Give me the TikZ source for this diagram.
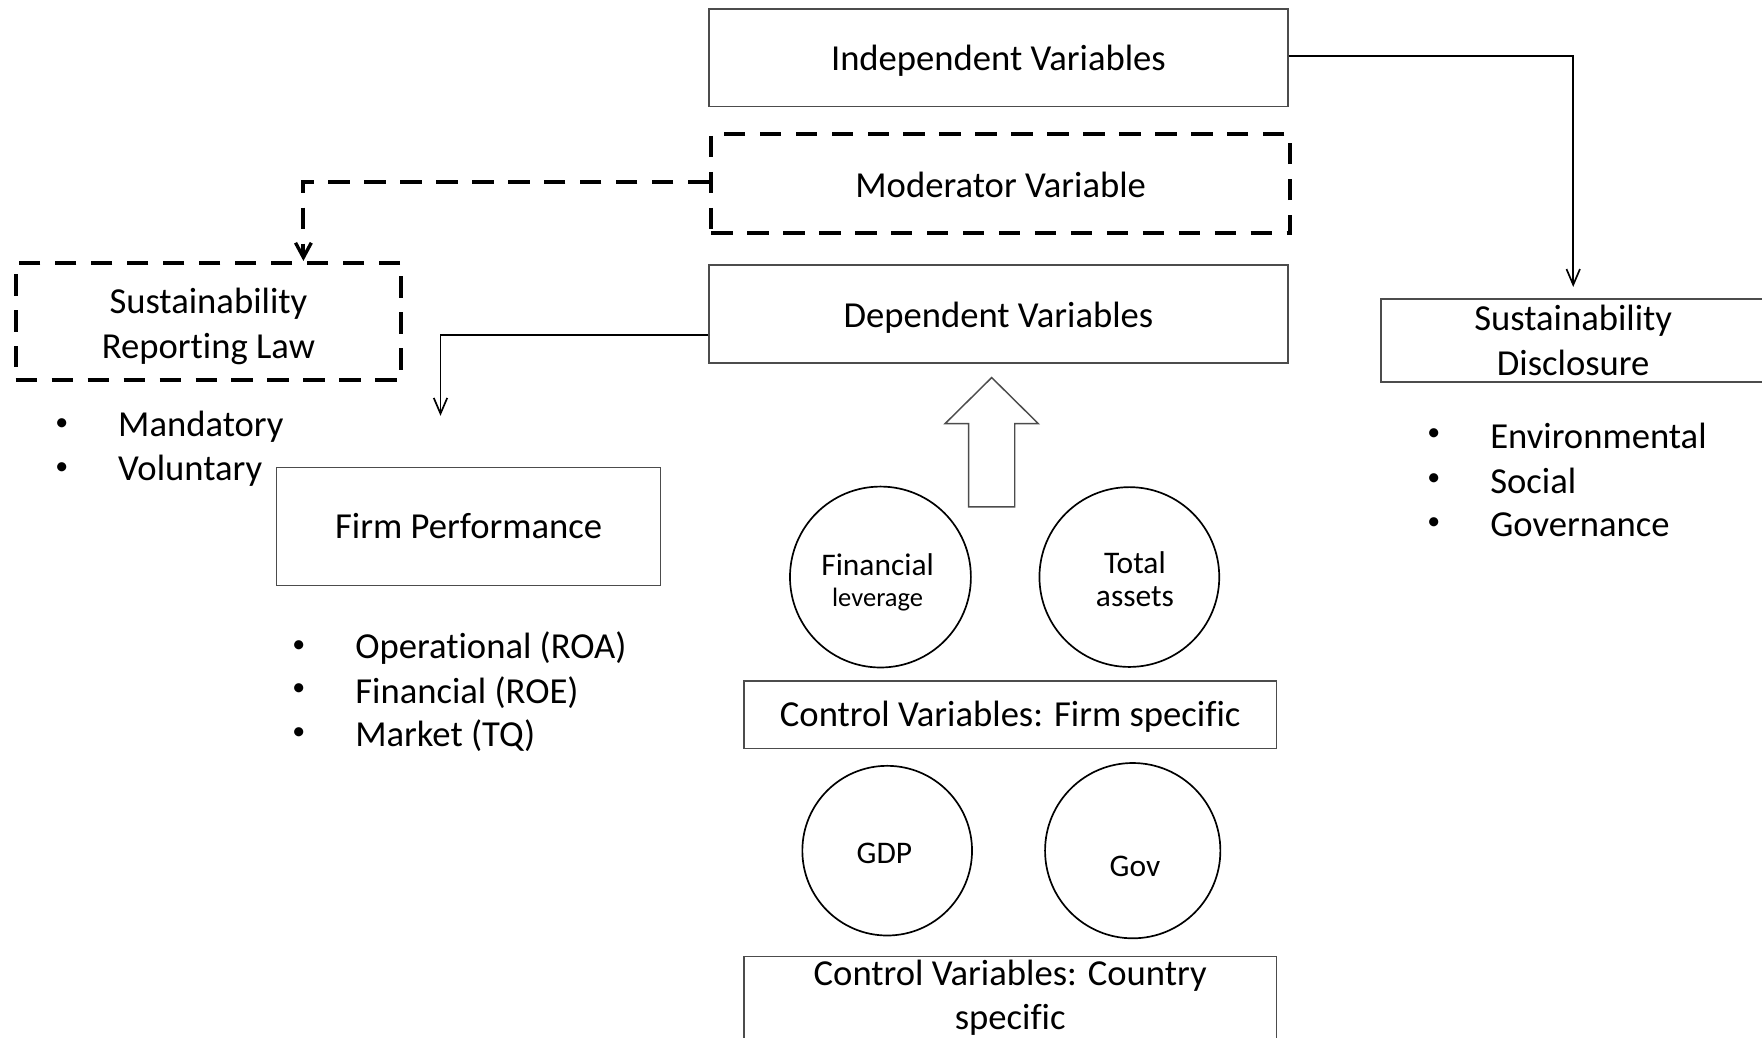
\documentclass[tikz,border=0pt]{standalone}
\usepackage{fontspec}
\setmainfont{Carlito}[Ligatures=NoCommon]
\usetikzlibrary{arrows.meta}
\newcommand\bigtxt{\fontsize{32.6}{39.5}\selectfont}
\newcommand\midtxt{\fontsize{28}{30}\selectfont}
\newcommand\dottxt{\fontsize{23}{26}\selectfont}
\begin{document}
\begin{tikzpicture}[x=1pt,y=-1pt,
  box/.style={draw=black!70, line width=1.3pt, inner sep=0pt, align=center,
    font=\bigtxt},
  dbox/.style={draw=black, line width=3.6pt, dash pattern=on 19pt off 13pt,
    inner sep=0pt, align=center, font=\bigtxt},
  lift/.style={execute at begin node={\rule{0pt}{#1}}},
  ring/.style={draw=black, line width=1.5pt, circle, inner sep=0pt},
  ringtxt/.style={inner sep=0pt, align=center, font=\midtxt},
  arr/.style={draw=black, line width=1.5pt,
    -{Straight Barb[length=14pt,width=12pt,line width=1.5pt]}},
  darr/.style={draw=black, line width=3.6pt, dash pattern=on 19pt off 13pt,
    -{Straight Barb[length=13pt,width=14pt,line width=3pt]}},
  bul/.style={inner sep=0pt, font=\dottxt},
  item/.style={inner sep=0pt, anchor=west, font=\bigtxt},
]
\useasboundingbox (0,0) rectangle (1568,923);
\clip (0,0) rectangle (1568,923);

% central column of variable boxes
\node[box, lift=27pt, minimum width=515pt, minimum height=87pt] (indep) at (888.5,51.5) {Independent  Variables};
\node[dbox, lift=25pt, minimum width=515pt, minimum height=88pt] (mod) at (890.5,163) {Moderator Variable};
\node[box, lift=29pt, minimum width=515pt, minimum height=87pt] (dep) at (888.5,279.5) {Dependent  Variables};

% left side: reporting law and firm performance
\node[dbox, text height=71pt, minimum width=343pt, minimum height=104pt] (law) at (185.5,286) {Sustainability\\Reporting Law};
\node[box, minimum width=342pt, minimum height=105pt] (fp) at (417,468.5) {Firm Performance};

% right side: disclosure
\node[box, lift=25pt, minimum width=342pt, minimum height=74pt] (disc) at (1400,303) {Sustainability\\Disclosure};

% control variables
\node[box, lift=27pt, minimum width=474pt, minimum height=60pt] (cfirm) at (899,636) {Control Variables: Firm specific};
\node[box, lift=25pt, minimum width=474pt, minimum height=74pt] (ccountry) at (899,888) {Control Variables: Country\\specific};

\node[ring, minimum size=161pt] (fl) at (783.5,513.5) {};
\node[ringtxt] (fltxt) at (781,518) {Financial\\[-2pt]{\fontsize{23.6}{26}\selectfont leverage}};
\node[ring, minimum size=160pt] (ta) at (1005,513.5) {};
\node[ringtxt] (tatxt) at (1010,515.5) {Total\\assets};
\node[ring, minimum size=151pt] (gdp) at (789.5,757) {};
\node[ringtxt] (gdptxt) at (787,759) {GDP};
\node[ring, minimum size=156pt] (gov) at (1008,757) {};
\node[ringtxt] (govtxt) at (1010,771) {Gov};

% block arrow pointing up to the dependent variables
\draw[draw=black!70, line width=1.3pt, fill=white]
  (862,451) -- (862,377) -- (841,377) -- (882.5,336) -- (924,377)
  -- (903,377) -- (903,451) -- cycle;

% bullet lists
\node[bul] (b1) at (55,378) {•};
\node[item] (t1) at (105,380) {Mandatory};
\node[bul] (b2) at (55,417) {•};
\node[item] (t2) at (105,419) {Voluntary};

\node[bul] (b3) at (266,575) {•};
\node[item] (t3) at (316,577) {Operational (ROA)};
\node[bul] (b4) at (266,614) {•};
\node[item] (t4) at (316,616) {Financial (ROE)};
\node[bul] (b5) at (266,653) {•};
\node[item] (t5) at (316,655) {Market (TQ)};

\node[bul] (b6) at (1276,387) {•};
\node[item] (t6) at (1326,388) {Environmental};
\node[bul] (b7) at (1276,427) {•};
\node[item] (t7) at (1326,428) {Social};
\node[bul] (b8) at (1276,466) {•};
\node[item] (t8) at (1326,467) {Governance};

% connectors
\coordinate (fpin) at (392,370);
\draw[arr] ([yshift=1.5pt]indep.east) -| ([yshift=10pt]disc.north);
\draw[arr] ([yshift=-18.5pt]dep.west) -| (fpin);
\draw[darr] ([yshift=1pt]mod.west) -| ([xshift=84.5pt]law.north);
\end{tikzpicture}
\end{document}
